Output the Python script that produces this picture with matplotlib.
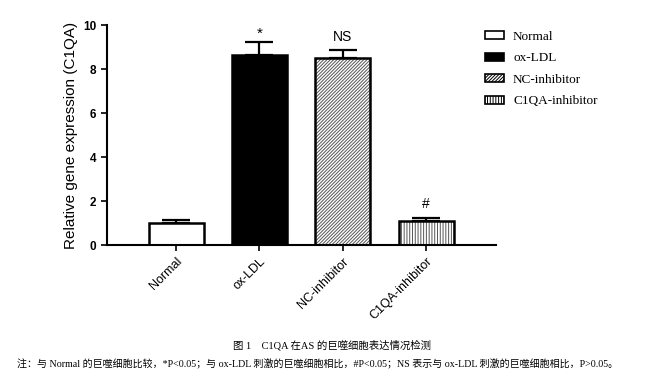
import matplotlib
matplotlib.use("Agg")
import matplotlib.pyplot as plt
from matplotlib.patches import Patch

# 数据
groups = ['Normal', 'ox-LDL', 'NC-inhibitor', 'C1QA-inhibitor']
values = [1.0, 8.62, 8.5, 1.1]
errors = [0.13, 0.6, 0.36, 0.13]
marks = ['', '*', 'NS', '#']
yticks = [0, 2, 4, 6, 8, 10]

faces = ['white', 'black', 'white', 'white']
hatches = [None, None, '//////////', '||||||']

caption = '图 1    C1QA 在AS 的巨噬细胞表达情况检测'
note = ('注：与 Normal 的巨噬细胞比较，*P<0.05；与 ox-LDL 刺激的巨噬细胞相比，'
        '#P<0.05；NS 表示与 ox-LDL 刺激的巨噬细胞相比，P>0.05。')

plt.rcParams['font.family'] = ['Liberation Sans', 'DejaVu Sans']
plt.rcParams['hatch.linewidth'] = 0.7
plt.rcParams['hatch.color'] = '#555555'

fig = plt.figure(figsize=(6.64, 3.80), dpi=100)
ax = fig.add_axes([0.161, 0.355, 0.586, 0.579])

x = list(range(len(groups)))
# fond + hachures
for i in x:
    ax.bar(i, values[i], width=0.66, color=faces[i], hatch=hatches[i],
           edgecolor='#555555', linewidth=0, zorder=2)
# contours
ax.bar(x, values, width=0.66, color='none', edgecolor='black', linewidth=1.8, zorder=3)

# barres d'erreur (seulement vers le haut)
ax.errorbar(x, values, yerr=[[0] * len(x), errors], fmt='none', ecolor='black',
            elinewidth=1.6, capsize=10, capthick=1.6, zorder=1)

for i in x:
    if marks[i] == '*':
        ax.text(i, values[i] + errors[i] + 0.05, marks[i], ha='center', va='bottom',
                fontsize=11)
    elif marks[i]:
        ax.text(i, values[i] + errors[i] + 0.3, marks[i], ha='center', va='bottom',
                fontsize=10)

ax.set_xlim(-0.83, 3.84)
ax.set_ylim(0, 10)
ax.set_yticks(yticks)
ax.set_yticklabels([str(t) for t in yticks], fontweight='bold', fontsize=8.5)
ax.set_xticks(x)
ax.set_xticklabels(groups, rotation=45, ha='right', rotation_mode='anchor', fontsize=9)
ax.set_ylabel('Relative gene expression (C1QA)', fontsize=11)
for s in ['top', 'right']:
    ax.spines[s].set_visible(False)
for s in ['left', 'bottom']:
    ax.spines[s].set_linewidth(1.5)
ax.tick_params(width=1.2, length=4)

handles = [Patch(facecolor=faces[i], edgecolor='black', hatch=hatches[i], linewidth=1.2)
           for i in x]
leg = fig.legend(handles, groups, loc='upper left', bbox_to_anchor=(0.713, 0.95),
                 frameon=False, handlelength=1.4, handleheight=0.55, labelspacing=0.72,
                 handletextpad=0.7,
                 prop={'family': 'Liberation Serif', 'size': 9.5})

serif_cjk = ['Liberation Serif', 'Noto Sans CJK SC']
fig.text(0.50, 0.092, caption, ha='center', va='center', fontsize=7.5, family=serif_cjk)
fig.text(0.026, 0.042, note, ha='left', va='center', fontsize=7.2, family=serif_cjk)

fig.savefig('out.png', dpi=100, facecolor='white')
